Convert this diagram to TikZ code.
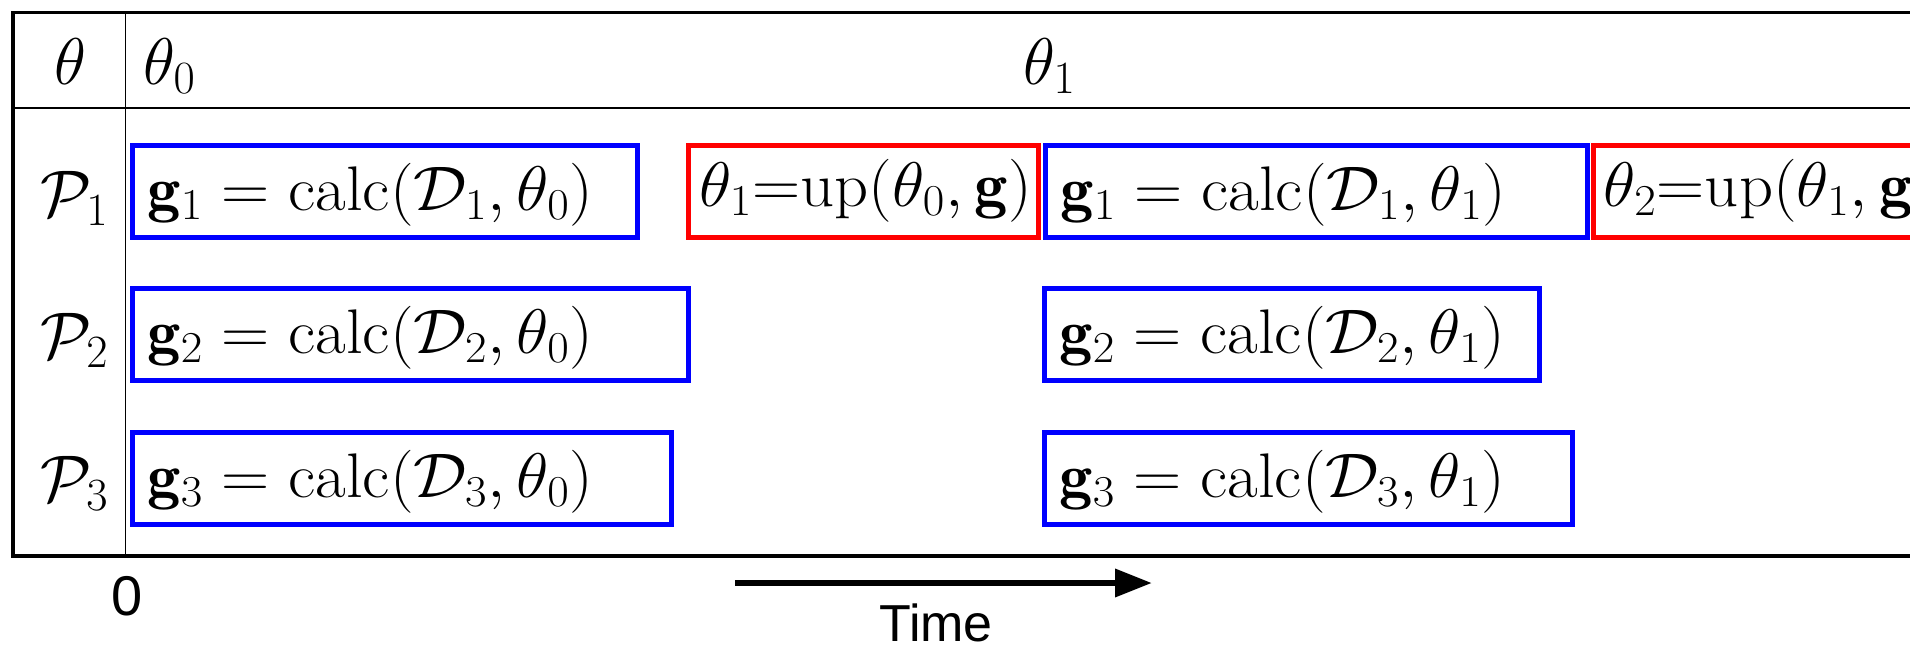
\RequirePackage{fix-cm}
\documentclass[tikz,border=0pt]{standalone}
\usepackage{graphicx}
\usepackage{fontspec}
\newfontfamily\sanslabel{Liberation Sans}
\usetikzlibrary{arrows.meta,calc}
\newcommand\wideeq[1]{\scalebox{1.06}[1]{$#1$}}
\tikzset{
  frameline/.style={line width=1.75pt, black},
  headline/.style={line width=1.2pt, black},
  divline/.style={line width=0.9pt, black},
  calcbox/.style={draw=blue, line width=2.5pt, rectangle, inner sep=0pt, minimum height=46pt, anchor=north west},
  upbox/.style={draw=red, line width=2.5pt, rectangle, inner sep=0pt, minimum height=46pt, anchor=north west},
  boxtext/.style={anchor=base west, inner sep=0pt, font=\fontsize{31.5}{37}\selectfont},
  lbl/.style={anchor=base west, inner sep=0pt, font=\fontsize{33}{40}\selectfont},
  sanstext/.style={inner sep=0pt, font=\sanslabel\fontsize{26}{31}\selectfont},
  timearrow/.style={line width=3.3pt, -{Triangle[length=18.5pt, width=13.5pt]}},
}
\begin{document}
\begin{tikzpicture}[x=0.5pt, y=-0.5pt]
\useasboundingbox (0,0) rectangle (1910,648);
\clip (0,0) rectangle (1910,648);
% table frame
\draw[frameline] (1935,12.5) -- (13,12.5) -- (13,556) -- (1935,556);
\draw[headline] (13,108) -- (1935,108);
\draw[divline] (125.5,12.5) -- (125.5,556);
% header labels
\node[lbl, anchor=base] (th) at (70,84) {$\theta$};
\node[lbl] (th0) at (143,84) {$\theta_0$};
\node[lbl] (th1) at (1023,84) {$\theta_1$};
% process labels
\node[lbl] (p1) at (40,216) {$\mathcal{P}_1$};
\node[lbl] (p2) at (40,358) {$\mathcal{P}_2$};
\node[lbl] (p3) at (40,501) {$\mathcal{P}_3$};
% row 1
\node[calcbox, minimum width=252.5pt] (b11) at (130,142.5) {};
\node[boxtext] (t11) at ($(b11.west)+(17,19)$) {\wideeq{\mathbf{g}_1=\mathrm{calc}(\mathcal{D}_1,\theta_0)}};
\node[upbox, minimum width=175pt] (r11) at (686,142.5) {};
\node[boxtext] (u11) at ($(r11.west)+(13,15)$) {\wideeq{\theta_1{=}\mathrm{up}(\theta_0,\mathbf{g})}};
\node[calcbox, minimum width=271pt] (b12) at (1043,142.5) {};
\node[boxtext] (t12) at ($(b12.west)+(17,19)$) {\wideeq{\mathbf{g}_1=\mathrm{calc}(\mathcal{D}_1,\theta_1)}};
\node[upbox, minimum width=175pt] (r12) at (1590.5,142.5) {};
\node[boxtext] (u12) at ($(r12.west)+(13,15)$) {\wideeq{\theta_2{=}\mathrm{up}(\theta_1,\mathbf{g})}};
% row 2
\node[calcbox, minimum width=278pt] (b21) at (130,285.5) {};
\node[boxtext] (t21) at ($(b21.west)+(17,19)$) {\wideeq{\mathbf{g}_2=\mathrm{calc}(\mathcal{D}_2,\theta_0)}};
\node[calcbox, minimum width=247.5pt] (b22) at (1042,285.5) {};
\node[boxtext] (t22) at ($(b22.west)+(17,19)$) {\wideeq{\mathbf{g}_2=\mathrm{calc}(\mathcal{D}_2,\theta_1)}};
% row 3
\node[calcbox, minimum width=269.5pt] (b31) at (130,430) {};
\node[boxtext] (t31) at ($(b31.west)+(17,19)$) {\wideeq{\mathbf{g}_3=\mathrm{calc}(\mathcal{D}_3,\theta_0)}};
\node[calcbox, minimum width=264pt] (b32) at (1042,430) {};
\node[boxtext] (t32) at ($(b32.west)+(17,19)$) {\wideeq{\mathbf{g}_3=\mathrm{calc}(\mathcal{D}_3,\theta_1)}};
% time axis
\node[sanstext, font=\sanslabel\fontsize{28}{33}\selectfont, anchor=base] (zero) at (127,615) {0};
\coordinate (ta) at (735,583);
\coordinate (tb) at (1152,583);
\draw[timearrow] (ta) -- (tb);
\node[sanstext, anchor=base] (time) at (936,641) {Time};
\end{tikzpicture}
\end{document}
